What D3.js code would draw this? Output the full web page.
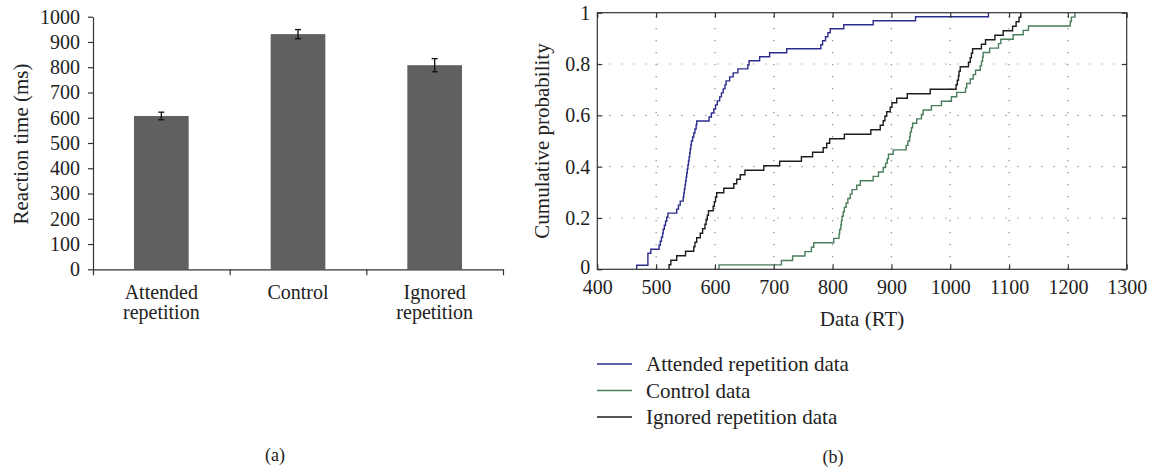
<!DOCTYPE html>
<html>
<head>
<meta charset="utf-8">
<script src="https://cdnjs.cloudflare.com/ajax/libs/d3/7.8.5/d3.min.js"></script>
<style>
  body { margin: 0; background: #fff; }
  svg { display: block; font-family: "Liberation Serif", "DejaVu Serif", serif; }
  text { fill: #222; }
</style>
</head>
<body>
<svg width="1154" height="471"></svg>
<script>
var svg = d3.select("svg");

// (a) bar chart data
var barCategories = [["Attended", "repetition"], ["Control"], ["Ignored", "repetition"]];
var barMeans = [607, 931, 808];
var barErrors = [15, 18, 26];
var barTicks = [0, 100, 200, 300, 400, 500, 600, 700, 800, 900, 1000];

// (b) reaction times, sorted, one per trial
var attendedRT = [467, 486, 486, 486, 491, 505, 507, 509, 511, 512, 514, 516, 518, 520,
  535, 538, 541, 546, 547, 548, 549, 550, 551, 552, 553, 554, 555, 556, 557, 558, 559,
  560, 562, 564, 566, 568, 569, 590, 594, 598, 601, 604, 608, 611, 614, 617, 619, 625,
  631, 639, 656, 658, 676, 693, 722, 780, 783, 788, 792, 796, 819, 869, 941, 1065];
var controlRT = [607, 713, 732, 753, 764, 768, 802, 811, 812, 814, 815, 816, 818, 820,
  823, 826, 830, 833, 841, 847, 869, 878, 886, 890, 893, 895, 903, 925, 928, 931, 932,
  934, 936, 943, 951, 954, 968, 985, 1002, 1011, 1026, 1028, 1034, 1039, 1043, 1051,
  1053, 1055, 1056, 1067, 1082, 1086, 1107, 1124, 1133, 1204, 1206, 1212];
var ignoredRT = [522, 525, 535, 550, 564, 566, 569, 575, 579, 583, 585, 587, 589, 597,
  599, 601, 603, 615, 632, 637, 643, 651, 683, 710, 747, 766, 784, 790, 795, 820, 865,
  881, 886, 889, 892, 898, 901, 909, 927, 966, 1010, 1012, 1014, 1015, 1017, 1031, 1034,
  1036, 1038, 1053, 1060, 1076, 1090, 1106, 1112, 1117, 1120];
var seriesNames = ["Attended repetition data", "Control data", "Ignored repetition data"];
var seriesColors = ["#2c2c8e", "#4a7d5c", "#1c1c1c"];
var xTicksB = [400, 500, 600, 700, 800, 900, 1000, 1100, 1200, 1300];
var yTicksB = [0, 0.2, 0.4, 0.6, 0.8, 1];

// ---------- (a) ----------
var ax0 = 93, ax1 = 503, ay0 = 269.3, ay1 = 16.7;
var yA = d3.scaleLinear().domain([0, 1000]).range([ay0, ay1]);
var xA = d3.scaleBand().domain(d3.range(barMeans.length)).range([ax0, ax1]).padding(0);
var xEdges = d3.scaleLinear().domain([0, 3]).range([ax0, ax1]);

var gA = svg.append("g");

gA.selectAll("rect.bar")
  .data(barMeans)
  .enter()
  .append("rect")
  .attr("class", "bar")
  .attr("x", function(d, i) { return xA(i) + xA.bandwidth() * 0.3; })
  .attr("width", xA.bandwidth() * 0.4)
  .attr("y", function(d) { return yA(d); })
  .attr("height", function(d) { return yA(0) - yA(d); })
  .attr("fill", "#606060");

// error bars
var eb = gA.selectAll("g.err")
  .data(barMeans)
  .enter()
  .append("g")
  .attr("class", "err")
  .attr("stroke", "#111")
  .attr("stroke-width", 1.3);
eb.append("line")
  .attr("x1", function(d, i) { return xA(i) + xA.bandwidth() / 2; })
  .attr("x2", function(d, i) { return xA(i) + xA.bandwidth() / 2; })
  .attr("y1", function(d, i) { return yA(d - barErrors[i]); })
  .attr("y2", function(d, i) { return yA(d + barErrors[i]); });
[-1, 1].forEach(function(s) {
  eb.append("line")
    .attr("x1", function(d, i) { return xA(i) + xA.bandwidth() / 2 - 3; })
    .attr("x2", function(d, i) { return xA(i) + xA.bandwidth() / 2 + 3; })
    .attr("y1", function(d, i) { return yA(d + s * barErrors[i]); })
    .attr("y2", function(d, i) { return yA(d + s * barErrors[i]); });
});

var yAxisA = gA.append("g")
  .attr("transform", "translate(" + ax0 + ",0)")
  .call(d3.axisLeft(yA).tickValues(barTicks).tickSize(5).tickSizeOuter(0).tickPadding(8).tickFormat(d3.format("d")));
var xAxisA = gA.append("g")
  .attr("transform", "translate(0," + ay0 + ")")
  .call(d3.axisBottom(xEdges).tickValues([0, 1, 2, 3]).tickSize(6).tickSizeOuter(0).tickFormat(""));
[yAxisA, xAxisA].forEach(function(a) {
  a.selectAll("path, line").attr("stroke", "#333").attr("stroke-width", 1.2);
  a.selectAll("text").style("font-size", "20px").style("font-family", "Liberation Serif").attr("fill", "#222");
});

gA.selectAll("text.cat")
  .data(barCategories)
  .enter()
  .append("text")
  .attr("class", "cat")
  .attr("x", function(d, i) { return xA(i) + xA.bandwidth() / 2; })
  .attr("y", 299)
  .attr("text-anchor", "middle")
  .style("font-size", "20px")
  .each(function(d) {
    var t = d3.select(this);
    d.forEach(function(line, j) {
      t.append("tspan")
        .attr("x", t.attr("x"))
        .attr("dy", j === 0 ? 0 : 20)
        .text(line);
    });
  });

gA.append("text")
  .attr("transform", "translate(28,144) rotate(-90)")
  .attr("text-anchor", "middle")
  .style("font-size", "21px")
  .text("Reaction time (ms)");

svg.append("text")
  .attr("x", 275).attr("y", 461)
  .attr("text-anchor", "middle")
  .style("font-size", "18px")
  .text("(a)");

// ---------- (b) ----------
var bx0 = 597.3, bx1 = 1126.7, by0 = 269.3, by1 = 12.7;
var xB = d3.scaleLinear().domain([400, 1300]).range([bx0, bx1]);
var yB = d3.scaleLinear().domain([0, 1]).range([by0, by1]);

var gB = svg.append("g");

// dotted grid
gB.selectAll("line.gx")
  .data(xTicksB.slice(1, -1))
  .enter()
  .append("line")
  .attr("x1", function(d) { return xB(d); })
  .attr("x2", function(d) { return xB(d); })
  .attr("y1", by0).attr("y2", by1)
  .attr("stroke", "#8a8a8a").attr("stroke-width", 1.2)
  .attr("stroke-dasharray", "1.2 10.8");
gB.selectAll("line.gy")
  .data(yTicksB.slice(1, -1))
  .enter()
  .append("line")
  .attr("y1", function(d) { return yB(d); })
  .attr("y2", function(d) { return yB(d); })
  .attr("x1", bx0).attr("x2", bx1)
  .attr("stroke", "#8a8a8a").attr("stroke-width", 1.2)
  .attr("stroke-dasharray", "1.2 10.8");

// empirical CDFs as stairs
function ecdf(values) {
  var n = values.length;
  var pts = [[values[0], 0]];
  values.forEach(function(v, i) { pts.push([v, (i + 1) / n]); });
  return pts;
}
var stairs = d3.line()
  .x(function(d) { return xB(d[0]); })
  .y(function(d) { return yB(d[1]); })
  .curve(d3.curveStepAfter);

[attendedRT, controlRT, ignoredRT].forEach(function(rt, i) {
  gB.append("path")
    .attr("d", stairs(ecdf(rt)))
    .attr("fill", "none")
    .attr("stroke", seriesColors[i])
    .attr("stroke-width", 1.4);
});

// box + inward ticks
gB.append("rect")
  .attr("x", bx0).attr("y", by1)
  .attr("width", bx1 - bx0).attr("height", by0 - by1)
  .attr("fill", "none").attr("stroke", "#333").attr("stroke-width", 1.2);

var axesB = [
  gB.append("g").attr("transform", "translate(0," + by0 + ")")
    .call(d3.axisBottom(xB).tickValues(xTicksB).tickSize(-5).tickSizeOuter(0).tickPadding(11).tickFormat(d3.format("d"))),
  gB.append("g").attr("transform", "translate(0," + by1 + ")")
    .call(d3.axisTop(xB).tickValues(xTicksB).tickSize(-5).tickSizeOuter(0).tickFormat("")),
  gB.append("g").attr("transform", "translate(" + bx0 + ",0)")
    .call(d3.axisLeft(yB).tickValues(yTicksB).tickSize(-5).tickSizeOuter(0).tickPadding(7).tickFormat(d3.format(""))),
  gB.append("g").attr("transform", "translate(" + bx1 + ",0)")
    .call(d3.axisRight(yB).tickValues(yTicksB).tickSize(-5).tickSizeOuter(0).tickFormat(""))
];
axesB.forEach(function(a) {
  a.select(".domain").remove();
  a.selectAll("line").attr("stroke", "#333").attr("stroke-width", 1.2);
  a.selectAll("text").style("font-size", "20px").style("font-family", "Liberation Serif").attr("fill", "#222");
});
// lift the lowest y label a touch so it clears the 400 label
axesB[2].selectAll(".tick text").filter(function(d) { return d === 0; }).attr("dy", "0.2em");

gB.append("text")
  .attr("x", (bx0 + bx1) / 2).attr("y", 326)
  .attr("text-anchor", "middle")
  .style("font-size", "21px")
  .text("Data (RT)");

gB.append("text")
  .attr("transform", "translate(549,141) rotate(-90)")
  .attr("text-anchor", "middle")
  .style("font-size", "21px")
  .text("Cumulative probability");

// legend
var leg = gB.selectAll("g.leg")
  .data(seriesNames)
  .enter()
  .append("g")
  .attr("class", "leg")
  .attr("transform", function(d, i) { return "translate(597," + (364 + i * 26.5) + ")"; });
leg.append("line")
  .attr("x1", 0).attr("x2", 35)
  .attr("stroke", function(d, i) { return seriesColors[i]; })
  .attr("stroke-width", 1.4);
leg.append("text")
  .attr("x", 49).attr("y", 7)
  .style("font-size", "21px")
  .text(function(d) { return d; });

svg.append("text")
  .attr("x", 833).attr("y", 463)
  .attr("text-anchor", "middle")
  .style("font-size", "18px")
  .text("(b)");
</script>
</body>
</html>
